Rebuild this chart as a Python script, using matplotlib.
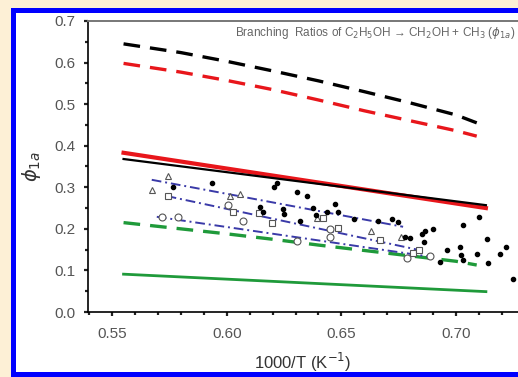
import matplotlib
matplotlib.use("Agg")
import matplotlib.pyplot as plt
from matplotlib.patches import Rectangle
from matplotlib.ticker import MultipleLocator

# ---- data ----
x_line = [0.555, 0.58, 0.60, 0.62, 0.64, 0.66, 0.68, 0.70, 0.709]
black_dash = [0.645, 0.624, 0.603, 0.580, 0.556, 0.530, 0.503, 0.474, 0.455]
red_dash = [0.598, 0.577, 0.557, 0.535, 0.510, 0.484, 0.460, 0.436, 0.423]
green_dash = [0.215, 0.200, 0.188, 0.175, 0.161, 0.148, 0.135, 0.122, 0.113]

x_solid = [0.555, 0.713]
red_solid = [0.383, 0.250]
black_solid = [0.368, 0.257]
green_solid = [0.091, 0.049]

blue1_x = [0.5673, 0.6769]
blue1_y = [0.318, 0.205]
blue2_x = [0.5738, 0.684]
blue2_y = [0.279, 0.149]
blue3_x = [0.5695, 0.6886]
blue3_y = [0.229, 0.133]

tri_x = [0.5673, 0.5743, 0.6014, 0.6058, 0.6392, 0.6630, 0.6760]
tri_y = [0.293, 0.328, 0.280, 0.285, 0.226, 0.195, 0.180]
sq_x = [0.5743, 0.6028, 0.6140, 0.6196, 0.6420, 0.6487, 0.6668, 0.6813, 0.6840]
sq_y = [0.279, 0.241, 0.237, 0.213, 0.226, 0.201, 0.172, 0.143, 0.149]
circ_x = [0.5717, 0.5789, 0.6007, 0.6072, 0.6305, 0.6450, 0.6450, 0.6785, 0.6886]
circ_y = [0.229, 0.228, 0.257, 0.220, 0.170, 0.181, 0.200, 0.131, 0.134]

dot_x = [0.5767, 0.5937, 0.6206, 0.6220, 0.6305, 0.6349, 0.6145, 0.6160, 0.6247,
         0.6250, 0.6318, 0.6377, 0.6390, 0.6436, 0.6472, 0.6487, 0.6556, 0.6661,
         0.6719, 0.6748, 0.6777, 0.6800, 0.6850, 0.6865, 0.6900, 0.6858, 0.6930,
         0.6959, 0.7017, 0.7023, 0.7032, 0.7032, 0.7090, 0.7100, 0.7133, 0.7140,
         0.7191, 0.7218, 0.7250]
dot_y = [0.300, 0.311, 0.300, 0.311, 0.288, 0.280, 0.252, 0.240, 0.247,
         0.236, 0.220, 0.249, 0.233, 0.240, 0.260, 0.240, 0.224, 0.220,
         0.224, 0.216, 0.180, 0.177, 0.188, 0.195, 0.200, 0.168, 0.121,
         0.149, 0.157, 0.138, 0.125, 0.209, 0.140, 0.229, 0.175, 0.119,
         0.140, 0.157, 0.079]

xticks = [0.55, 0.60, 0.65, 0.70]
xticklabels = ["0.55", "0.60", "0.65", "0.70"]
yticks = [0.0, 0.1, 0.2, 0.3, 0.4, 0.5, 0.6, 0.7]
yticklabels = ["0.0", "0.1", "0.2", "0.3", "0.4", "0.5", "0.6", "0.7"]

plt.rcParams['font.family'] = ['Liberation Sans', 'DejaVu Sans']

W, H = 518, 377
fig = plt.figure(figsize=(W / 100, H / 100), dpi=100)
fig.patch.set_facecolor('#fdf0d6')
# blue frame
frame = Rectangle((12.5 / W, 1 - 374 / H), 520 / W, (374 - 9.5) / H,
                  transform=fig.transFigure, facecolor='white',
                  edgecolor='#0000ff', linewidth=3.6, zorder=-10)
fig.patches.append(frame)

ax = fig.add_axes([88 / W, 1 - 312 / H, (W - 88) / W, (312 - 21) / H])
ax.set_zorder(5)
ax.set_facecolor('none')
ax.set_xlim(0.5395, 0.727)
ax.set_ylim(0.0, 0.7)

ax.plot(x_line, black_dash, color='black', lw=2.4, dashes=(5, 3))
ax.plot(x_line, red_dash, color='#e8161b', lw=2.4, dashes=(5, 3))
ax.plot(x_line, green_dash, color='#1f9a3a', lw=2.4, dashes=(5, 3))
ax.plot(x_solid, red_solid, color='#e8161b', lw=3.0)
ax.plot(x_solid, black_solid, color='black', lw=1.6)
ax.plot(x_solid, green_solid, color='#1f9a3a', lw=2.0)

for bx, by in [(blue1_x, blue1_y), (blue2_x, blue2_y), (blue3_x, blue3_y)]:
    ax.plot(bx, by, color='#3a3aa8', lw=1.4, dashes=(5, 2, 1, 2))

ax.plot(tri_x, tri_y, ls='none', marker='^', ms=5, mfc='white', mec='#555555', mew=0.8)
ax.plot(sq_x, sq_y, ls='none', marker='s', ms=5, mfc='white', mec='#555555', mew=0.8)
ax.plot(circ_x, circ_y, ls='none', marker='o', ms=5, mfc='white', mec='#555555', mew=0.8)
ax.plot(dot_x, dot_y, ls='none', marker='o', ms=3.0, color='black')

ax.set_xticks(xticks)
ax.set_xticklabels(xticklabels)
ax.set_yticks(yticks)
ax.set_yticklabels(yticklabels)
ax.xaxis.set_minor_locator(MultipleLocator(0.01))
ax.yaxis.set_minor_locator(MultipleLocator(0.05))
ax.tick_params(axis='both', which='major', direction='out', length=3, width=1.6,
               labelsize=11, labelcolor='#555555', color='#222222')
ax.tick_params(axis='both', which='minor', direction='out', length=2.5, width=1.6,
               color='#222222')
ax.tick_params(axis='x', pad=8)
ax.tick_params(axis='y', pad=6)
ax.spines['right'].set_visible(False)
ax.spines['top'].set_color('#777777')
ax.spines['top'].set_linewidth(1.4)
ax.spines['left'].set_linewidth(1.2)
ax.spines['bottom'].set_linewidth(1.2)

ax.set_xlabel('1000/T (K$^{-1}$)', fontsize=12, color='#333333', labelpad=7)
ax.set_ylabel(r'$\phi_{1a}$', fontsize=14, color='#333333', labelpad=8)

ax.text(0.995, 0.959,
        r'Branching  Ratios of C$_2$H$_5$OH → CH$_2$OH + CH$_3$ ($\phi_{1a}$)',
        transform=ax.transAxes, ha='right', va='center', fontsize=8.5,
        color='#666666')

fig.savefig('out.png', dpi=100, facecolor=fig.get_facecolor())
